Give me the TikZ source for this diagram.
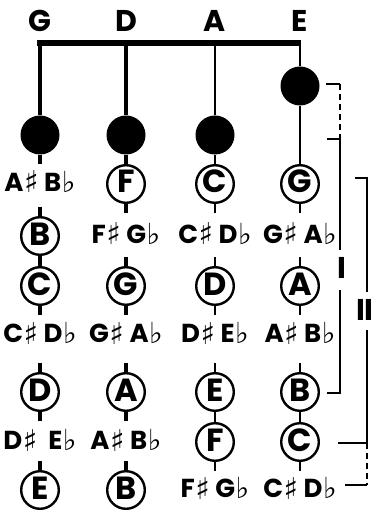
\documentclass[tikz,border=0pt]{standalone}
\usepackage{fontspec}
\setmainfont{Poppins}
\newfontfamily\musicfont{DejaVu Sans}
\newcommand{\sh}{\kern0.5pt\raisebox{-1.5pt}{\musicfont\bfseries\fontsize{30}{30}\selectfont\char"266F}}
\newcommand{\fl}{\kern0.5pt\raisebox{-1pt}{\musicfont\bfseries\fontsize{29}{29}\selectfont\char"266D}}

\begin{document}
\begin{tikzpicture}[x=1pt,y=-1pt,
    strname/.style={font=\bfseries\fontsize{30}{30}\selectfont,inner sep=0pt,text height=17pt,text depth=0pt},
    open/.style={circle,fill=black,inner sep=0pt,minimum size=39pt},
    note/.style={circle,draw=black,line width=2.4pt,inner sep=0pt,minimum size=37.6pt,
      font=\bfseries\fontsize{32}{32}\selectfont,text height=18pt,text depth=0pt},
    half/.style={inner sep=0pt,font=\bfseries\fontsize{26}{26}\selectfont,text height=15pt,text depth=0pt},
    part/.style={font=\bfseries\fontsize{30}{30}\selectfont,inner sep=0pt,text height=17pt,text depth=0pt},
    gstr/.style={line width=4.6pt},
    dstr/.style={line width=3.6pt},
    astr/.style={line width=2.6pt},
    estr/.style={line width=1.2pt},
    bracket/.style={line width=1.1pt}]
  \useasboundingbox (0,0) rectangle (373,510);

  % string names and the bar
  \node[strname] (nG) at (40,23)  {G};
  \node[strname] (nD) at (126,23) {D};
  \node[strname] (nA) at (215,23) {A};
  \node[strname] (nE) at (300,23) {E};
  \coordinate (tG) at (40,43);
  \coordinate (tD) at (126,43);
  \coordinate (tA) at (215,43);
  \coordinate (tE) at (300,43);

  % G string
  \node[open] (G0) at (40,135) {};
  \node[half] (G1) at (40,184) {A\sh\ B\fl};
  \node[note] (G2) at (40,236) {B};
  \node[note] (G3) at (40,286) {C};
  \node[half] (G4) at (40,335) {C\sh\ D\fl};
  \node[note] (G5) at (40,392) {D};
  \node[half] (G6) at (40,442) {D\sh\ \ E\fl};
  \node[note] (G7) at (40,490) {E};

  % D string
  \node[open] (D0) at (126,135) {};
  \node[note] (D1) at (126,184) {F};
  \node[half] (D2) at (126,236) {F\sh\ G\fl};
  \node[note] (D3) at (126,286) {G};
  \node[half] (D4) at (126,335) {G\sh\ A\fl};
  \node[note] (D5) at (126,392) {A};
  \node[half] (D6) at (126,442) {A\sh\ B\fl};
  \node[note] (D7) at (126,490) {B};

  % A string
  \node[open] (A0) at (215,135) {};
  \node[note] (A1) at (215,184) {C};
  \node[half] (A2) at (215,236) {C\sh\ D\fl};
  \node[note] (A3) at (215,286) {D};
  \node[half] (A4) at (215,335) {D\sh\ E\fl};
  \node[note] (A5) at (215,392) {E};
  \node[note] (A6) at (215,442) {F};
  \node[half] (A7) at (215,490) {F\sh\ G\fl};

  % E string
  \node[open] (E0) at (300,86) {};
  \node[note] (E1) at (300,184) {G};
  \node[half] (E2) at (300,236) {G\sh\ A\fl};
  \node[note] (E3) at (300,286) {A};
  \node[half] (E4) at (300,335) {A\sh\ B\fl};
  \node[note] (E5) at (300,392) {B};
  \node[note] (E6) at (300,442) {C};
  \node[half] (E7) at (300,490) {C\sh\ D\fl};

  \draw[line width=6pt] ([xshift=-2.6pt]tG) -- ([xshift=0.8pt]tE);

  \draw[gstr] ([yshift=1pt]tG) -- (G0)
    (G0.south) -- ([yshift=-9pt]G0.south)
    ([yshift=9pt]G2.north) -- (G2.north) (G2.south) -- (G3.north)
    (G3.south) -- ([yshift=-9pt]G3.south)
    ([yshift=9pt]G5.north) -- (G5.north) (G5.south) -- ([yshift=-9pt]G5.south)
    ([yshift=9pt]G7.north) -- (G7.north);
  \draw[dstr] (tD) -- (D0) (D0) -- (D1)
    (D1.south) -- ([yshift=-9pt]D1.south)
    ([yshift=9pt]D3.north) -- (D3.north) (D3.south) -- ([yshift=-9pt]D3.south)
    ([yshift=9pt]D5.north) -- (D5.north) (D5.south) -- ([yshift=-9pt]D5.south)
    ([yshift=9pt]D7.north) -- (D7.north);
  \draw[astr] (tA) -- (A0) (A0) -- (A1)
    (A1.south) -- ([yshift=-9pt]A1.south)
    ([yshift=9pt]A3.north) -- (A3.north) (A3.south) -- ([yshift=-9pt]A3.south)
    ([yshift=9pt]A5.north) -- (A5.north) (A5.south) -- (A6.north)
    (A6.south) -- ([yshift=-9pt]A6.south);
  \draw[estr] (tE) -- (E0) (E0) -- (E1)
    (E1.south) -- ([yshift=-9pt]E1.south)
    ([yshift=9pt]E3.north) -- (E3.north) (E3.south) -- ([yshift=-9pt]E3.south)
    ([yshift=9pt]E5.north) -- (E5.north) (E5.south) -- (E6.north)
    (E6.south) -- ([yshift=-9pt]E6.south);

  % positions
  \node[part] (pI)  at (342,270) {I};
  \node[part] (pII) at (365,312) {I\kern-1.5pt I};
  \coordinate (i1) at (326,84);
  \coordinate (i2) at (340,84);
  \coordinate (i3) at (327,139);
  \coordinate (i4) at (340,139);
  \coordinate (i5) at (340,250);
  \coordinate (i6) at (340,290);
  \coordinate (i7) at (340,393);
  \coordinate (i8) at (327,393);
  \draw[bracket] (i1) -- (i2);
  \draw[bracket,dash pattern=on 6pt off 4pt] (i2) -- (i4);
  \draw[bracket] (i3) -- (i4) -- (i5) (i6) -- (i7) -- (i8);

  \coordinate (j1) at (355,178);
  \coordinate (j2) at (367,178);
  \coordinate (j3) at (367,292);
  \coordinate (j4) at (367,330);
  \coordinate (j5) at (367,443);
  \coordinate (j6) at (338,443);
  \coordinate (j7) at (367,485);
  \coordinate (j8) at (345,485);
  \draw[bracket] (j1) -- (j2) -- (j3) (j4) -- (j5) -- (j6);
  \draw[bracket,dash pattern=on 6pt off 4pt] (j5) -- (j7);
  \draw[bracket] (j7) -- (j8);
\end{tikzpicture}
\end{document}
